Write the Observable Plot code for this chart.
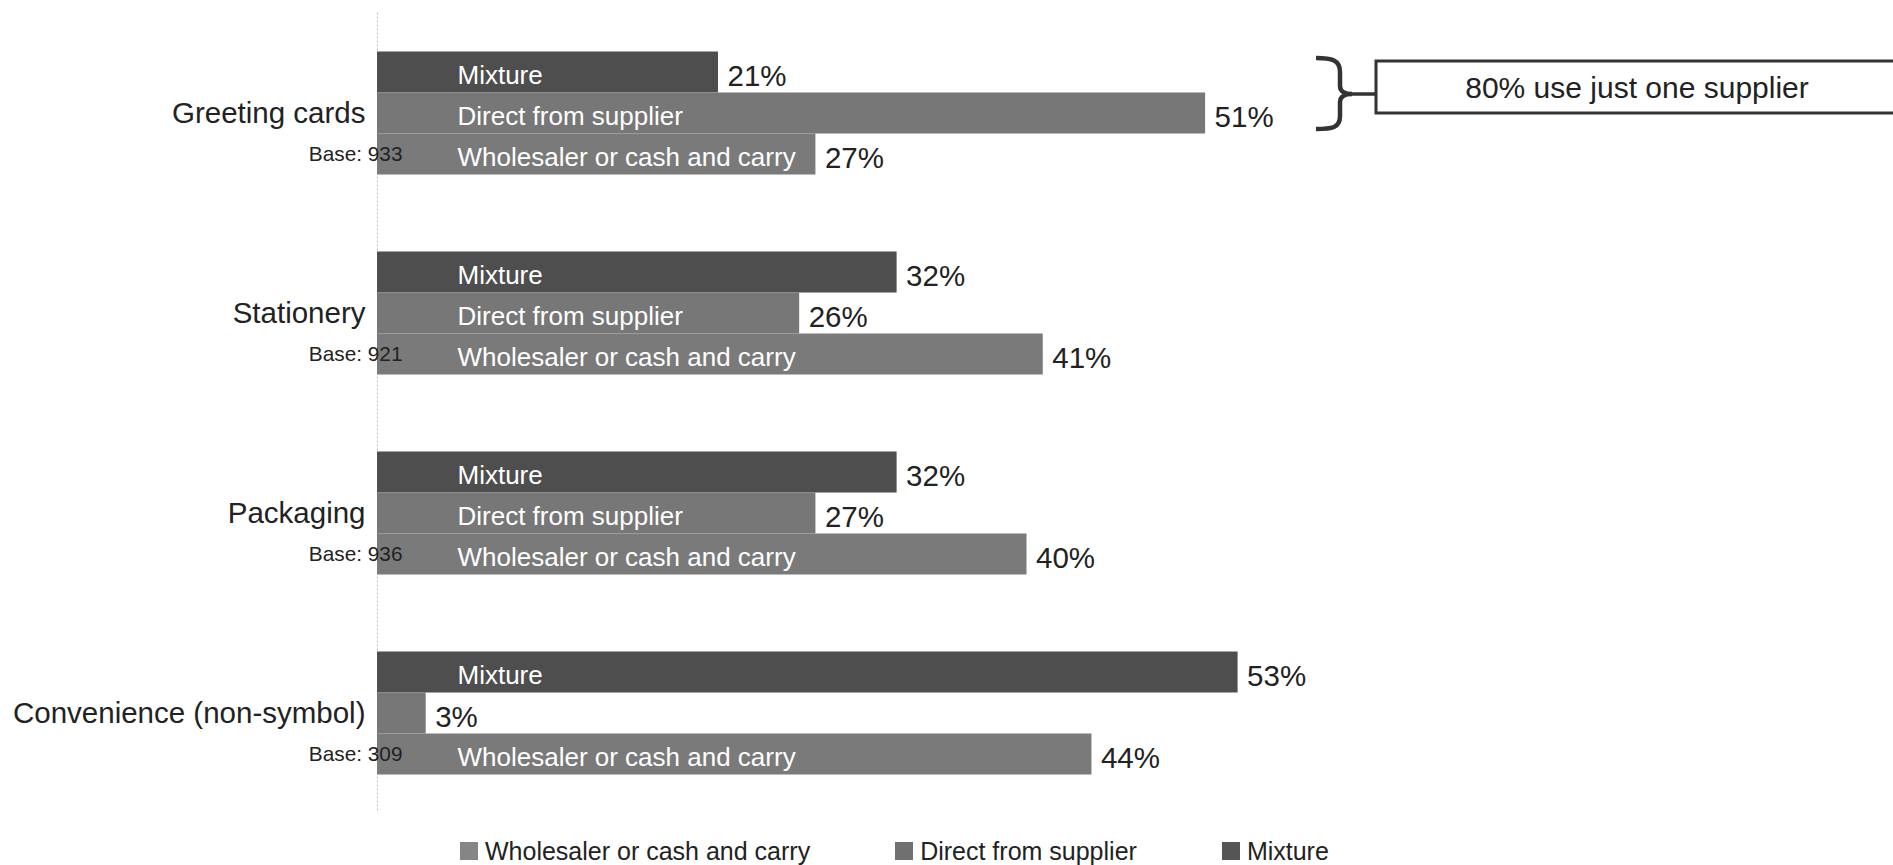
<!DOCTYPE html>
<html>
<head>
<meta charset="utf-8">
<script src="https://cdn.jsdelivr.net/npm/d3@7"></script>
<script src="https://cdn.jsdelivr.net/npm/@observablehq/plot@0.6"></script>
<style>
  html, body { margin: 0; padding: 0; background: #fff; }
  body { font-family: "Liberation Sans", Arial, sans-serif; color: #222; width: 1893px; }
  #legend { display: flex; align-items: center; height: 50px; padding-left: 460px; box-sizing: border-box; font-size: 25px; line-height: 28px; padding-top: 22px; }
  .item { display: flex; align-items: center; }
  .sw { width: 18px; height: 18px; margin-right: 7px; }
</style>
</head>
<body>
<div id="chart"></div>
<div id="legend"></div>
<script>
// ---- data ----
const categories = ["Greeting cards", "Stationery", "Packaging", "Convenience (non-symbol)"];
const series = ["Mixture", "Direct from supplier", "Wholesaler or cash and carry"];
const mixture = [21, 32, 32, 53];
const direct = [51, 26, 27, 3];
const wholesaler = [27, 41, 40, 44];
const bases = [933, 921, 936, 309];
const legendOrder = ["Wholesaler or cash and carry", "Direct from supplier", "Mixture"];
const annotationText = "80% use just one supplier";

// ---- styles ----
const seriesColors = ["#4e4e4e", "#777777", "#7a7a7a"];
const legendColors = ["#858585", "#707070", "#555555"];

const values = {"Mixture": mixture, "Direct from supplier": direct, "Wholesaler or cash and carry": wholesaler};
const data = categories.flatMap((c, i) => series.map(s => ({category: c, series: s, value: values[s][i]})));
const baseData = categories.map((c, i) => ({category: c, base: bases[i]}));

const chart = Plot.plot({
  width: 1893,
  height: 815,
  marginLeft: 377,
  marginRight: 217,
  marginTop: 49.5,
  marginBottom: 39,
  style: {fontFamily: "'Liberation Sans', Arial, sans-serif", background: "white", color: "#222", overflow: "visible"},
  x: {domain: [0, 80], axis: null},
  y: {domain: series, axis: null, padding: 0},
  fy: {domain: categories, axis: null, paddingInner: 0.373, paddingOuter: 0},
  color: {domain: series, range: seriesColors},
  marks: [
    Plot.ruleX(categories, {fy: d => d, x: () => 0, stroke: "#bdbdbd", strokeWidth: 1, strokeDasharray: "2,2", insetTop: -37.5, insetBottom: -37.5}),
    Plot.barX(data, {fy: "category", y: "series", x: "value", fill: "series"}),
    Plot.text(data.filter(d => d.value >= 10), {fy: "category", y: "series", x: () => 0, text: "series", textAnchor: "start", dx: 80, dy: 3, fill: "white", fontSize: 26}),
    Plot.text(data, {fy: "category", y: "series", x: "value", text: d => d.value + "%", textAnchor: "start", dx: 9, dy: 4, fill: "#222", fontSize: 29.5}),
    Plot.text(categories, {fy: d => d, text: d => d, frameAnchor: "left", textAnchor: "end", dx: -12, dy: 1, fill: "#222", fontSize: 29.5}),
    Plot.text(baseData, {fy: "category", y: () => "Wholesaler or cash and carry", x: () => 0, text: d => "Base: " + d.base, textAnchor: "end", dx: 25, fill: "#222", fontSize: 20.8})
  ]
});
document.getElementById("chart").appendChild(chart);

// ---- annotation (brace + box) ----
const svg = d3.select(chart.tagName.toLowerCase() === "svg" ? chart : chart.querySelector("svg"));
const g = svg.append("g");
g.append("path")
  .attr("d", "M1316,58 C1332,58 1340,60 1340,72 L1340,86 C1340,92 1346,94 1352,94 C1346,94 1340,96 1340,102 L1340,116 C1340,128 1332,129 1316,129")
  .attr("fill", "none").attr("stroke", "#333").attr("stroke-width", 4.5);
g.append("line").attr("x1", 1352).attr("x2", 1376).attr("y1", 94).attr("y2", 94)
  .attr("stroke", "#333").attr("stroke-width", 3.5);
g.append("rect").attr("x", 1376).attr("y", 61).attr("width", 530).attr("height", 52)
  .attr("fill", "white").attr("stroke", "#333").attr("stroke-width", 3);
g.append("text").attr("x", 1637).attr("y", 87).attr("dy", "0.35em").attr("text-anchor", "middle")
  .attr("font-size", 30).attr("fill", "#222").text(annotationText);

// ---- legend ----
const legend = d3.select("#legend");
legendOrder.forEach((s, i) => {
  const it = legend.append("div").attr("class", "item").style("margin-right", i < legendOrder.length - 1 ? "85px" : "0");
  it.append("div").attr("class", "sw").style("background", legendColors[i]);
  it.append("span").text(s);
});
</script>
</body>
</html>
